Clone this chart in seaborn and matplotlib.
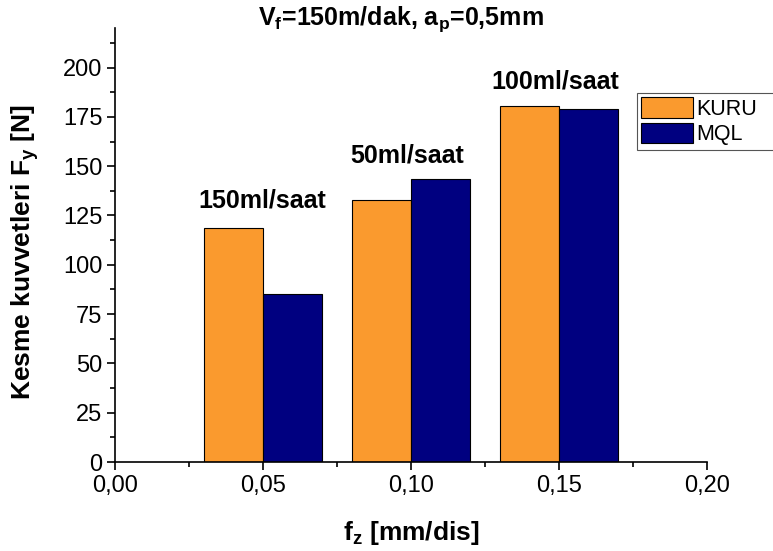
import matplotlib
matplotlib.use("Agg")
import matplotlib.pyplot as plt
import seaborn as sns
import pandas as pd
from matplotlib.ticker import MultipleLocator, FuncFormatter

fz = [0.05, 0.10, 0.15]
kuru = [118.5, 132.7, 180.7]
mql = [85.2, 143.3, 179.2]
series = ["KURU", "MQL"]
labels = ["150ml/saat", "50ml/saat", "100ml/saat"]
label_x = [0.0497, 0.0986, 0.1488]
label_y = [132.5, 155.5, 193.0]

df = pd.DataFrame({
    "fz": fz * 2,
    "F": kuru + mql,
    "seri": [series[0]] * 3 + [series[1]] * 3,
})

sns.set_theme(style="ticks")
plt.rcParams["font.family"] = ["Liberation Sans", "DejaVu Sans"]
plt.rcParams["mathtext.fontset"] = "custom"
plt.rcParams["mathtext.rm"] = "Liberation Sans:bold"
plt.rcParams["mathtext.bf"] = "Liberation Sans:bold"
plt.rcParams["mathtext.it"] = "Liberation Sans:bold"
plt.rcParams["mathtext.default"] = "bf"
for k in ["text.color", "axes.labelcolor", "xtick.color", "ytick.color", "axes.edgecolor"]:
    plt.rcParams[k] = "black"

fig = plt.figure(figsize=(7.73, 5.51), dpi=100)
ax = fig.add_axes([0.1488, 0.1615, 0.7658, 0.7875])

sns.barplot(data=df, x="fz", y="F", hue="seri", native_scale=True, width=0.8,
            palette=["#FA9A2E", "#000080"], edgecolor="black", linewidth=0.8,
            saturation=1, ax=ax, errorbar=None, legend=True)

ax.set_xlim(0, 0.20)
ax.set_ylim(0, 220)
ax.xaxis.set_major_locator(MultipleLocator(0.05))
ax.xaxis.set_minor_locator(MultipleLocator(0.025))
ax.yaxis.set_major_locator(MultipleLocator(25))
ax.yaxis.set_minor_locator(MultipleLocator(12.5))
ax.xaxis.set_major_formatter(FuncFormatter(lambda v, p: f"{v:.2f}".replace(".", ",")))
ax.tick_params(axis="both", which="major", direction="out", length=6, width=1.2,
               labelsize=17, colors="black", pad=3)
ax.tick_params(axis="both", which="minor", direction="out", length=3.5, width=1.2)
for s in ["top", "right"]:
    ax.spines[s].set_visible(False)
for s in ["left", "bottom"]:
    ax.spines[s].set_linewidth(1.2)
    ax.spines[s].set_color("black")

ax.set_xlabel(r"f$_z$ [mm/dis]", fontsize=19, fontweight="bold")
ax.set_ylabel(r"Kesme kuvvetleri F$_y$ [N]", fontsize=19, fontweight="bold")
ax.xaxis.set_label_coords(0.5, -0.132)
ax.yaxis.set_label_coords(-0.125, 0.484)
fig.text(0.518, 0.965, r"V$_f$=150m/dak, a$_p$=0,5mm", fontsize=18, fontweight="bold",
         ha="center", va="center")

for x, t, y in zip(label_x, labels, label_y):
    ax.text(x, y, t, fontsize=18, fontweight="bold", ha="center", va="center")

leg = ax.legend(loc="upper left",
                bbox_to_anchor=(637 / 773, 1 - 152 / 551, 150 / 773, 59 / 551),
                mode="expand",
                bbox_transform=fig.transFigure, fontsize=15.5, frameon=True,
                fancybox=False, framealpha=1, edgecolor="#555555",
                handlelength=2.4, handleheight=1.1, handletextpad=0.15,
                borderpad=0.2, labelspacing=0.12, borderaxespad=0)
leg.get_frame().set_linewidth(0.8)

fig.savefig("out.png", dpi=100)
